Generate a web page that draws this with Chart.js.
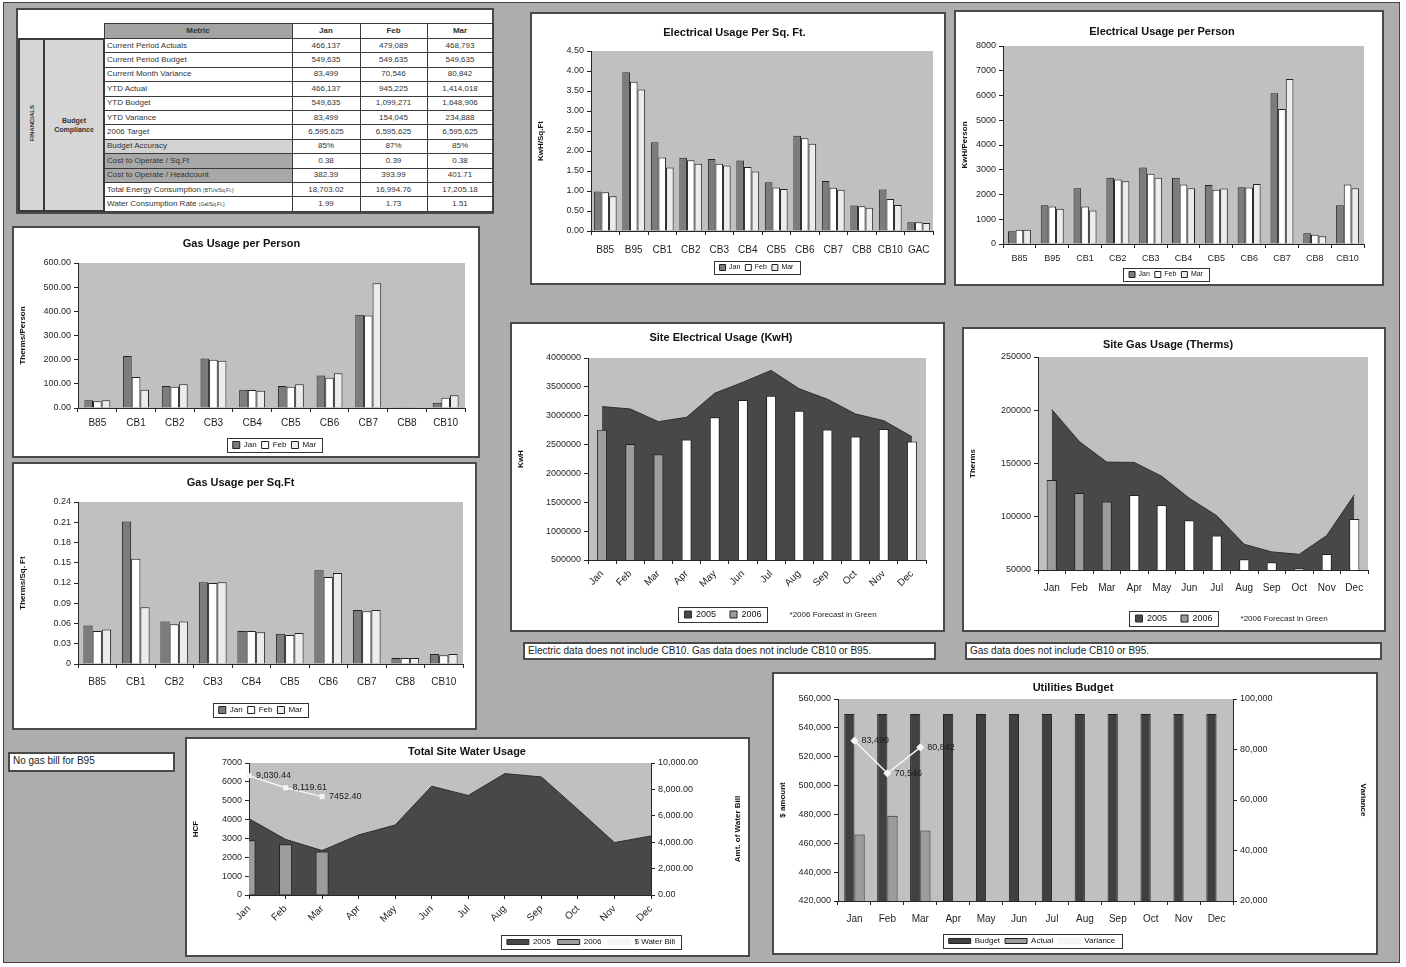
<!DOCTYPE html>
<html>
<head>
<meta charset="utf-8">
<script src="https://cdn.jsdelivr.net/npm/chart.js@4.4.1/dist/chart.umd.min.js"></script>
<style>
html, body { margin: 0; padding: 0; background: #fff; }
body { width: 1406px; height: 967px; position: relative; overflow: hidden; font-family: 'Liberation Sans', Arial, sans-serif; }
#sheet { position: absolute; left: 3px; top: 2px; width: 1397px; height: 961px; background: #adadad; border: 1px solid #444; box-sizing: border-box; }
.panel { position: absolute; background: #fff; border: 2px solid #4a4a4a; box-sizing: border-box; }
.panel .box { position: relative; width: 100%; height: 100%; }
.note { position: absolute; background: #fff; border: 2px solid #4a4a4a; box-sizing: border-box; font-size: 10px; line-height: 14px; padding-left: 3px; color: #222; white-space: nowrap; overflow: hidden; }
#fin { position: absolute; left: 0; top: 13px; border-collapse: collapse; table-layout: fixed; width: 474px; font-size: 8px; color: #333; }
#fin td { border: 1px solid #3a3a3a; padding: 0 2px; height: 13.4px; line-height: 12px; white-space: nowrap; overflow: hidden; }
#fin tr.hd td { height: 14px; font-weight: bold; text-align: center; }
#fin td.blank { border-top: none; border-left: none; background: #fff; }
#fin td.metric { background: #a3a3a3; }
#fin td.fin { background: #d6d6d6; text-align: center; padding: 0; border-width: 2px; }
#fin td.fin span { writing-mode: vertical-rl; transform: rotate(180deg); font-size: 6px; font-weight: bold; display: inline-block; }
#fin td.bc { background: #d6d6d6; text-align: center; font-weight: bold; font-size: 7px; line-height: 9px; border-width: 2px; }
#fin td.val { text-align: center; }
#fin td.acc { background: #d2d2d2; }
#fin td.cost { background: #a8a8a8; }
#fin small { font-size: 5px; }
</style>
</head>
<body>
<div id="sheet"></div>

<div class="panel" id="tbl" style="left:16px;top:8px;width:478px;height:206px;"></div>

<div class="panel" style="left:530px;top:12px;width:416px;height:273px;"><div class="box"><canvas id="elecSqft"></canvas></div></div>
<div class="panel" style="left:954px;top:10px;width:430px;height:276px;"><div class="box"><canvas id="elecPerson"></canvas></div></div>
<div class="panel" style="left:12px;top:226px;width:468px;height:232px;"><div class="box"><canvas id="gasPerson"></canvas></div></div>
<div class="panel" style="left:12px;top:462px;width:465px;height:268px;"><div class="box"><canvas id="gasSqft"></canvas></div></div>
<div class="panel" style="left:510px;top:322px;width:435px;height:310px;"><div class="box"><canvas id="siteElec"></canvas></div></div>
<div class="panel" style="left:962px;top:327px;width:424px;height:305px;"><div class="box"><canvas id="siteGas"></canvas></div></div>
<div class="panel" style="left:185px;top:737px;width:565px;height:220px;"><div class="box"><canvas id="water"></canvas></div></div>
<div class="panel" style="left:772px;top:672px;width:606px;height:283px;"><div class="box"><canvas id="budget"></canvas></div></div>

<div class="note" style="left:523px;top:642px;width:413px;height:18px;">Electric data does not include CB10. Gas data does not include CB10 or B95.</div>
<div class="note" style="left:965px;top:642px;width:417px;height:18px;">Gas data does not include CB10 or B95.</div>
<div class="note" style="left:8px;top:752px;width:167px;height:20px;">No gas bill for B95</div>

<script>
// ---- data ----
const tableMonths = ['Jan', 'Feb', 'Mar'];
const tableRows = [
  ['Current Period Actuals', '466,137', '479,089', '468,793'],
  ['Current Period Budget', '549,635', '549,635', '549,635'],
  ['Current Month Variance', '83,499', '70,546', '80,842'],
  ['YTD Actual', '466,137', '945,225', '1,414,018'],
  ['YTD Budget', '549,635', '1,099,271', '1,648,906'],
  ['YTD Variance', '83,499', '154,045', '234,888'],
  ['2006 Target', '6,595,625', '6,595,625', '6,595,625'],
  ['Budget Accuracy', '85%', '87%', '85%'],
  ['Cost to Operate / Sq.Ft', '0.38', '0.39', '0.38'],
  ['Cost to Operate / Headcount', '382.39', '393.99', '401.71'],
  ['Total Energy Consumption <small>(BTUs/Sq.Ft.)</small>', '18,703.02', '16,994.76', '17,205.18'],
  ['Water Consumption Rate <small>(Gal/Sq.Ft.)</small>', '1.99', '1.73', '1.51']
];

const elecSqftCats = ['B85', 'B95', 'CB1', 'CB2', 'CB3', 'CB4', 'CB5', 'CB6', 'CB7', 'CB8', 'CB10', 'GAC'];
const elecSqftJan = [0.99, 3.97, 2.22, 1.83, 1.80, 1.76, 1.22, 2.38, 1.25, 0.64, 1.04, 0.22];
const elecSqftFeb = [0.97, 3.73, 1.84, 1.77, 1.68, 1.60, 1.09, 2.32, 1.08, 0.62, 0.80, 0.22];
const elecSqftMar = [0.87, 3.54, 1.59, 1.68, 1.64, 1.49, 1.05, 2.18, 1.03, 0.58, 0.65, 0.20];

const elecPersonCats = ['B85', 'B95', 'CB1', 'CB2', 'CB3', 'CB4', 'CB5', 'CB6', 'CB7', 'CB8', 'CB10'];
const elecPersonJan = [515, 1565, 2255, 2675, 3090, 2675, 2380, 2295, 6090, 430, 1565];
const elecPersonFeb = [575, 1515, 1515, 2605, 2835, 2400, 2190, 2280, 5450, 370, 2400];
const elecPersonMar = [580, 1420, 1350, 2540, 2675, 2255, 2240, 2420, 6670, 310, 2255];

const gasCats = ['B85', 'CB1', 'CB2', 'CB3', 'CB4', 'CB5', 'CB6', 'CB7', 'CB8', 'CB10'];
const gasPersonJan = [32, 215, 91, 205, 76, 91, 135, 386, 3, 22];
const gasPersonFeb = [28, 128, 88, 200, 75, 88, 125, 383, 3, 42];
const gasPersonMar = [32, 76, 98, 196, 71, 98, 144, 516, 3, 53];

const gasSqftJan = [0.057, 0.211, 0.063, 0.121, 0.049, 0.045, 0.139, 0.080, 0.009, 0.015];
const gasSqftFeb = [0.049, 0.156, 0.059, 0.120, 0.049, 0.043, 0.129, 0.078, 0.009, 0.013];
const gasSqftMar = [0.051, 0.084, 0.063, 0.121, 0.047, 0.046, 0.135, 0.080, 0.009, 0.015];
const gasSqftTicks = [0, 0.03, 0.06, 0.09, 0.12, 0.15, 0.18, 0.21, 0.24];

const months = ['Jan', 'Feb', 'Mar', 'Apr', 'May', 'Jun', 'Jul', 'Aug', 'Sep', 'Oct', 'Nov', 'Dec'];
const actualMonths = 3; // Jan-Mar are actuals, the rest is forecast

const siteElec2005 = [3158000, 3117000, 2897000, 2972000, 3390000, 3580000, 3785000, 3466000, 3286000, 3030000, 2914000, 2636000];
const siteElec2006 = [2758000, 2508000, 2334000, 2589000, 2972000, 3274000, 3344000, 3088000, 2763000, 2641000, 2769000, 2554000];

const siteGas2005 = [200800, 170700, 151300, 151000, 138000, 117400, 101000, 74100, 67000, 64700, 82300, 120500];
const siteGas2006 = [134600, 122400, 114300, 120500, 111100, 96700, 82300, 60000, 57200, 51600, 65000, 98000];

const water2005 = [4045, 2950, 2357, 3183, 3711, 5769, 5276, 6437, 6261, 4537, 2779, 3130];
const water2006 = [2902, 2691, 2304];
const waterBill = [9030.44, 8119.61, 7452.40];
const waterBillText = ['9,030.44', '8,119.61', '7452.40'];

const budgetMonthly = [549635, 549635, 549635, 549635, 549635, 549635, 549635, 549635, 549635, 549635, 549635, 549635];
const actualMonthly = [466137, 479089, 468793];
const varianceMonthly = [83499, 70546, 80842];

// ---- table ----
const rowShade = { 7: 'acc', 8: 'cost', 9: 'cost' };
let html = '<table id="fin"><colgroup><col style="width:25px"><col style="width:60px"><col style="width:188px"><col style="width:68px"><col style="width:67px"><col style="width:66px"></colgroup>';
html += '<tr class="hd"><td colspan="2" class="blank"></td><td class="metric">Metric</td>' +
  tableMonths.map(m => '<td>' + m + '</td>').join('') + '</tr>';
tableRows.forEach((r, i) => {
  html += '<tr>';
  if (i === 0) {
    html += '<td rowspan="' + tableRows.length + '" class="fin"><span>FINANCIALS</span></td>' +
            '<td rowspan="' + tableRows.length + '" class="bc">Budget<br>Compliance</td>';
  }
  html += '<td class="' + (rowShade[i] || '') + '">' + r[0] + '</td>' +
          r.slice(1).map(v => '<td class="val">' + v + '</td>').join('');
  html += '</tr>';
});
html += '</table>';
document.getElementById('tbl').innerHTML = html;

// ---- chart defaults ----
Chart.defaults.font.family = "'Liberation Sans', Arial, sans-serif";
Chart.defaults.font.size = 9;
Chart.defaults.color = '#1e1e1e';
Chart.defaults.animation = false;
Chart.defaults.maintainAspectRatio = false;
Chart.defaults.plugins.tooltip.enabled = false;

const AX = '#262626';
const JAN_C = '#7c7c7c', FEB_C = '#ffffff', MAR_C = '#ececec';
const AREA_C = '#484848';
const ACT_C = '#9c9c9c';

// grey plot area like excel
const plotBg = {
  id: 'plotBg',
  beforeDraw(chart) {
    const a = chart.chartArea, ctx = chart.ctx;
    ctx.save();
    ctx.fillStyle = '#c0c0c0';
    ctx.fillRect(a.left, a.top, a.right - a.left, a.bottom - a.top);
    ctx.restore();
  }
};

// move legend and put a frame round it, plus optional footnote
const legendAdjust = {
  id: 'legendAdjust',
  afterLayout(chart, args, opts) {
    const lg = chart.legend;
    if (!lg) return;
    const dx = opts.dx || 0, dy = opts.dy || 0;
    lg.left += dx; lg.right += dx; lg.top += dy; lg.bottom += dy;
  },
  afterDraw(chart, args, opts) {
    const lg = chart.legend;
    if (!lg || !lg.legendHitBoxes || !lg.legendHitBoxes.length) return;
    const hb = lg.legendHitBoxes;
    const l = Math.min(...hb.map(h => h.left)) - 6;
    const r = Math.max(...hb.map(h => h.left + h.width)) + 6;
    const t = Math.min(...hb.map(h => h.top)) - 3;
    const b = Math.max(...hb.map(h => h.top + h.height)) + 3;
    const ctx = chart.ctx;
    ctx.save();
    ctx.strokeStyle = '#333';
    ctx.lineWidth = 1;
    ctx.strokeRect(Math.round(l) + 0.5, Math.round(t) + 0.5, Math.round(r - l), Math.round(b - t));
    if (opts.note) {
      ctx.font = "8px 'Liberation Sans', Arial, sans-serif";
      ctx.fillStyle = '#222';
      ctx.textBaseline = 'middle';
      ctx.fillText(opts.note, r + 22, (t + b) / 2);
    }
    ctx.restore();
  }
};

// value labels beside line points
const pointLabels = {
  id: 'pointLabels',
  afterDatasetsDraw(chart) {
    const ctx = chart.ctx;
    chart.data.datasets.forEach((ds, i) => {
      if (!ds.pointText) return;
      const meta = chart.getDatasetMeta(i);
      ctx.save();
      ctx.font = "9px 'Liberation Sans', Arial, sans-serif";
      ctx.fillStyle = '#1a1a1a';
      ctx.textBaseline = 'middle';
      meta.data.forEach((pt, j) => ctx.fillText(ds.pointText[j], pt.x + 7, pt.y));
      ctx.restore();
    });
  }
};

// right axis title that reads bottom to top, as in the sheet
const upTitle = {
  id: 'upTitle',
  afterDraw(chart, args, opts) {
    if (!opts.text) return;
    const s = chart.scales[opts.axis], a = chart.chartArea, ctx = chart.ctx;
    ctx.save();
    ctx.font = "bold 8px 'Liberation Sans', Arial, sans-serif";
    ctx.fillStyle = '#111';
    ctx.textAlign = 'center';
    ctx.textBaseline = 'middle';
    ctx.translate(s.right - 5, (a.top + a.bottom) / 2);
    ctx.rotate(-Math.PI / 2);
    ctx.fillText(opts.text, 0, 0);
    ctx.restore();
  }
};

function valueAxis(o) {
  const ax = {
    position: o.position || 'left',
    min: o.min,
    max: o.max,
    ticks: { stepSize: o.step, callback: o.fmt, font: { size: 9 }, padding: 3, color: '#1e1e1e' },
    grid: { drawOnChartArea: false, color: AX, tickLength: 4 },
    border: { color: AX },
    title: { display: !!o.title, text: o.title, font: { size: 8, weight: 'bold' }, padding: 0, color: '#111' },
    afterFit: s => { s.width = o.width; }
  };
  if (o.ticks) ax.afterBuildTicks = s => { s.ticks = o.ticks.map(v => ({ value: v })); };
  return ax;
}

function catAxis(o) {
  const off = o.offset !== false;
  return {
    offset: off,
    grid: { drawOnChartArea: false, color: AX, tickLength: 4, offset: off },
    border: { color: AX },
    ticks: { font: { size: o.font || 10 }, padding: o.pad || 4, autoSkip: false, minRotation: o.rot || 0, maxRotation: o.rot || 0, color: '#1e1e1e' },
    afterFit: s => { s.height = o.height; }
  };
}

function titleOpt(text, top, bottom) {
  return { display: true, text: text, font: { size: 11, weight: 'bold' }, color: '#111', padding: { top: top, bottom: bottom } };
}

function legendOpt(o) {
  return {
    display: true,
    position: 'bottom',
    labels: {
      sort: (a, b) => a.datasetIndex - b.datasetIndex,
      font: { size: o.font || 8 }, boxWidth: o.bw || 6, boxHeight: o.bh || 6, padding: o.pad || 5, color: '#111'
    }
  };
}

function groupChart(id, cats, jan, feb, mar, o) {
  return new Chart(document.getElementById(id), {
    type: 'bar',
    data: {
      labels: cats,
      datasets: [
        { label: 'Jan', data: jan, backgroundColor: JAN_C },
        { label: 'Feb', data: feb, backgroundColor: FEB_C },
        { label: 'Mar', data: mar, backgroundColor: MAR_C }
      ]
    },
    options: {
      layout: { padding: o.padding },
      datasets: { bar: { categoryPercentage: o.cat, barPercentage: 1, borderColor: '#222', borderWidth: 1 } },
      scales: { x: catAxis(o.x), y: valueAxis(o.y) },
      plugins: { title: titleOpt(o.title, o.tt, o.tb), legend: legendOpt(o.legend), legendAdjust: o.shift }
    },
    plugins: [plotBg, legendAdjust]
  });
}

// ---- grouped bar charts ----
let elecSqftChart = groupChart('elecSqft', elecSqftCats, elecSqftJan, elecSqftFeb, elecSqftMar, {
  title: 'Electrical Usage Per Sq. Ft.', tt: 12.4, tb: 11.4,
  padding: { left: 4, right: 11, top: 0, bottom: 0 }, cat: 0.8,
  x: { height: 30, pad: 9, font: 10 },
  y: { min: 0, max: 4.5, step: 0.5, fmt: v => v.toFixed(2), title: 'KwH/Sq.Ft', width: 55 },
  legend: { font: 7, pad: 5 }, shift: { dx: 22, dy: -2 }
});

let elecPersonChart = groupChart('elecPerson', elecPersonCats, elecPersonJan, elecPersonFeb, elecPersonMar, {
  title: 'Electrical Usage per Person', tt: 13.4, tb: 7.4,
  padding: { left: 4, right: 18, top: 0, bottom: 0 }, cat: 0.7,
  x: { height: 18, pad: 5, font: 9 },
  y: { min: 0, max: 8000, step: 1000, fmt: v => String(v), title: 'KwH/Person', width: 43 },
  legend: { font: 7, pad: 5 }, shift: { dx: 4, dy: 4 }
});

let gasPersonChart = groupChart('gasPerson', gasCats, gasPersonJan, gasPersonFeb, gasPersonMar, {
  title: 'Gas Usage per Person', tt: 9.4, tb: 12.4,
  padding: { left: 4, right: 13, top: 0, bottom: 4 }, cat: 0.67,
  x: { height: 21, pad: 5, font: 10 },
  y: { min: 0, max: 600, step: 100, fmt: v => v.toFixed(2), title: 'Therms/Person', width: 60 },
  legend: { font: 8, bw: 7, bh: 7, pad: 5 }, shift: { dx: 33, dy: 7 }
});

let gasSqftChart = groupChart('gasSqft', gasCats, gasSqftJan, gasSqftFeb, gasSqftMar, {
  title: 'Gas Usage per Sq.Ft', tt: 12.4, tb: 12.4,
  padding: { left: 4, right: 12, top: 0, bottom: 17 }, cat: 0.72,
  x: { height: 24, pad: 8, font: 10 },
  y: { min: 0, max: 0.24, ticks: gasSqftTicks, fmt: v => (v === 0 ? '0' : v.toFixed(2)), title: 'Therms/Sq. Ft', width: 60 },
  legend: { font: 8, bw: 7, bh: 7, pad: 5 }, shift: { dx: 20, dy: 13 }
});

// ---- site area + bar charts ----
function forecastColor(ctx) {
  return (ctx.type === 'data' && ctx.dataIndex >= actualMonths) ? '#ffffff' : ACT_C;
}

let siteElecChart = new Chart(document.getElementById('siteElec'), {
  data: {
    labels: months,
    datasets: [
      { type: 'line', label: '2005', data: siteElec2005, fill: 'start', backgroundColor: AREA_C, borderColor: '#2e2e2e', borderWidth: 1, pointRadius: 0, tension: 0, order: 2 },
      { type: 'bar', label: '2006', data: siteElec2006, backgroundColor: forecastColor, borderColor: '#222', borderWidth: 1, categoryPercentage: 0.5, barPercentage: 0.71, order: 1 }
    ]
  },
  options: {
    layout: { padding: { left: 4, right: 17, top: 0, bottom: 0 } },
    scales: {
      x: catAxis({ height: 37, pad: 4, font: 10, rot: 45 }),
      y: valueAxis({ min: 500000, max: 4000000, step: 500000, fmt: v => String(v), title: 'KwH', width: 72 })
    },
    plugins: {
      title: titleOpt('Site Electrical Usage (KwH)', 7.4, 13.4),
      legend: legendOpt({ font: 9, bw: 7, bh: 7, pad: 14 }),
      legendAdjust: { dx: 2, dy: -1, note: '*2006 Forecast in Green' }
    }
  },
  plugins: [plotBg, legendAdjust]
});

let siteGasChart = new Chart(document.getElementById('siteGas'), {
  data: {
    labels: months,
    datasets: [
      { type: 'line', label: '2005', data: siteGas2005, fill: 'start', backgroundColor: AREA_C, borderColor: '#2e2e2e', borderWidth: 1, pointRadius: 0, tension: 0, order: 2 },
      { type: 'bar', label: '2006', data: siteGas2006, backgroundColor: forecastColor, borderColor: '#222', borderWidth: 1, categoryPercentage: 0.5, barPercentage: 0.74, order: 1 }
    ]
  },
  options: {
    layout: { padding: { left: 4, right: 16, top: 0, bottom: 0 } },
    scales: {
      x: catAxis({ height: 27, pad: 8, font: 10 }),
      y: valueAxis({ min: 50000, max: 250000, step: 50000, fmt: v => String(v), title: 'Therms', width: 70 })
    },
    plugins: {
      title: titleOpt('Site Gas Usage (Therms)', 9.4, 5.4),
      legend: legendOpt({ font: 9, bw: 7, bh: 7, pad: 14 }),
      legendAdjust: { dx: 6, dy: 3, note: '*2006 Forecast in Green' }
    }
  },
  plugins: [plotBg, legendAdjust]
});

// ---- water ----
let waterChart = new Chart(document.getElementById('water'), {
  data: {
    labels: months,
    datasets: [
      { type: 'line', label: '2005', data: water2005, fill: 'start', backgroundColor: AREA_C, borderColor: '#2e2e2e', borderWidth: 1, pointRadius: 0, tension: 0, order: 3 },
      { type: 'bar', label: '2006', data: water2006, backgroundColor: ACT_C, borderColor: '#222', borderWidth: 1, categoryPercentage: 0.5, barPercentage: 0.72, order: 2 },
      { type: 'line', label: '$ Water Bill', data: waterBill, yAxisID: 'y1', borderColor: '#f4f4f4', backgroundColor: '#f4f4f4', borderWidth: 1.5, pointStyle: 'rect', pointRadius: 2.5, tension: 0, order: 1, pointText: waterBillText }
    ]
  },
  options: {
    layout: { padding: { left: 4, right: 5, top: 0, bottom: 0 } },
    scales: {
      x: catAxis({ height: 35, pad: 4, font: 10, rot: 45, offset: false }),
      y: valueAxis({ min: 0, max: 7000, step: 1000, fmt: v => String(v), title: 'HCF', width: 58 }),
      y1: valueAxis({ position: 'right', min: 0, max: 10000, step: 2000, fmt: v => v.toLocaleString('en-US', { minimumFractionDigits: 2, maximumFractionDigits: 2 }), title: '', width: 92 })
    },
    plugins: {
      title: titleOpt('Total Site Water Usage', 6.4, 4.4),
      legend: legendOpt({ font: 8, bw: 22, bh: 5, pad: 7 }),
      legendAdjust: { dx: 124, dy: 1 },
      upTitle: { axis: 'y1', text: 'Amt. of Water Bill' }
    }
  },
  plugins: [plotBg, legendAdjust, pointLabels, upTitle]
});

// ---- utilities budget ----
let budgetChart = new Chart(document.getElementById('budget'), {
  data: {
    labels: months,
    datasets: [
      { type: 'bar', label: 'Budget', data: budgetMonthly, backgroundColor: '#404040', borderColor: '#222', borderWidth: 1, categoryPercentage: 0.62, barPercentage: 1, order: 2 },
      { type: 'bar', label: 'Actual', data: actualMonthly, backgroundColor: ACT_C, borderColor: '#222', borderWidth: 1, categoryPercentage: 0.62, barPercentage: 1, order: 2 },
      { type: 'line', label: 'Variance', data: varianceMonthly, yAxisID: 'y1', borderColor: '#f4f4f4', backgroundColor: '#f4f4f4', borderWidth: 1.5, pointStyle: 'rectRot', pointRadius: 3, tension: 0, order: 1, pointText: varianceMonthly.map(v => v.toLocaleString('en-US')) }
    ]
  },
  options: {
    layout: { padding: { left: 4, right: 8, top: 0, bottom: 3 } },
    scales: {
      x: catAxis({ height: 26, pad: 8, font: 10 }),
      y: valueAxis({ min: 420000, max: 560000, step: 20000, fmt: v => v.toLocaleString('en-US'), title: '$ amount', width: 60 }),
      y1: valueAxis({ position: 'right', min: 20000, max: 100000, step: 20000, fmt: v => v.toLocaleString('en-US'), title: 'Variance', width: 135 })
    },
    plugins: {
      title: titleOpt('Utilities Budget', 7.4, 4.4),
      legend: legendOpt({ font: 8, bw: 22, bh: 5, pad: 5 }),
      legendAdjust: { dx: -41, dy: 5 }
    }
  },
  plugins: [plotBg, legendAdjust, pointLabels]
});
</script>
</body>
</html>
